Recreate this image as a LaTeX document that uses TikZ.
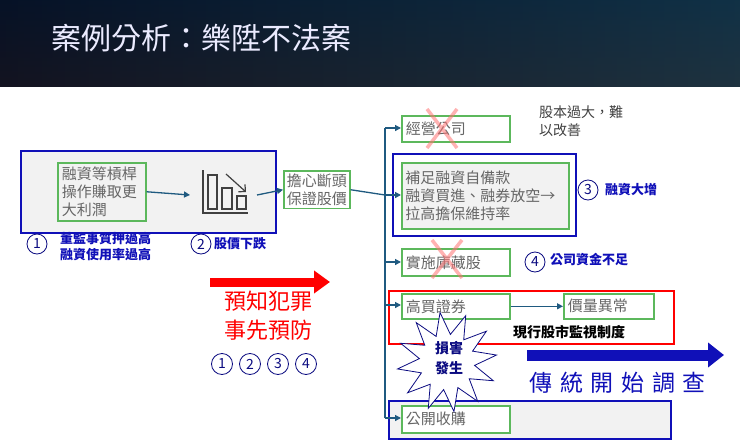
\documentclass[tikz,border=0pt]{standalone}
\usepackage{fontspec}
\setmainfont{Noto Sans CJK TC}
\usetikzlibrary{arrows.meta,shapes.geometric}
\definecolor{gbox}{HTML}{5CB85C}
\definecolor{tblue}{HTML}{1F5A80}
\definecolor{dblue}{HTML}{1010B8}
\definecolor{txtg}{HTML}{666666}
\tikzset{
 gbox/.style={draw=gbox,line width=1.6pt,fill=white,align=left,text=txtg,font=\fontsize{15}{18}\selectfont,inner sep=3pt},
 conn/.style={draw=tblue,line width=1.3pt,-{Triangle[length=6pt,width=6pt]}},
 xmark/.style={draw=red!55,line width=3.5pt,opacity=0.55},
 num/.style={circle,draw=dblue!70!black,line width=0.8pt,minimum size=20pt,inner sep=0pt,font=\fontsize{14}{14}\selectfont,text=dblue!70!black},
 btxt/.style={text=dblue,font=\bfseries\fontsize{13}{16}\selectfont,align=left,inner sep=0pt}
}
\begin{document}
\begin{tikzpicture}[x=1pt,y=-1pt]
\useasboundingbox (0,0) rectangle (740,442);
\fill[white] (0,0) rectangle (740,442);
\shade[left color=black!90!blue,right color=tblue!70!black] (0,0) rectangle (740,86);
\shade[top color=tblue!40!black,bottom color=black!85,opacity=0.5] (0,0) rectangle (740,86);
\node[anchor=west,text=white!92!blue,font=\fontsize{30}{32}\selectfont] (title) at (48,38) {案例分析：樂陞不法案};

% left region
\node[draw=dblue,line width=1.8pt,fill=black!5,minimum width=255pt,minimum height=82pt,anchor=north west] (lbox) at (20,150) {};
\node[gbox,fill=black!5,anchor=north west,text width=80pt,inner sep=4pt] (lev) at (57,162) {融資等槓桿\\操作賺取更\\大利潤};
\draw[black!75,line width=1.2pt] (203,170) -- (203,213) -- (248,213);
\draw[black!75,line width=1.2pt] (208,175) rectangle (217,209) (222,188) rectangle (232,209) (237,196) rectangle (246,209);
\draw[black!75,line width=1.2pt,-{Straight Barb[length=5pt]}] (226,174) -- (246,192);
\node[gbox,anchor=north west,inner sep=3pt] (worry) at (283,170) {擔心斷頭\\保證股價};
\draw[conn] (lev.east) -- (190,195);
\draw[conn] (257,195) -- (worry.west);

\node[num] (n1) at (37,244) {1};
\node[btxt,anchor=west] (t1) at (60,247) {董監事質押過高\\融資使用率過高};
\node[num] (n2) at (201,244) {2};
\node[btxt,anchor=west] (t2) at (214,244) {股價下跌};

% red arrow and text
\draw[red,line width=9pt,-{Triangle[length=16pt,width=22pt]}] (210,282) -- (330,282);
\node[text=red,font=\fontsize{22}{29}\selectfont,align=center] (pre) at (268,316) {預知犯罪\\事先預防};
\foreach \i/\x in {1/222,2/250,3/278,4/306}{\node[num,minimum size=21pt] (c\i) at (\x,364) {\i};}

% trunk
\coordinate (tt) at (385,128); \coordinate (tb) at (385,418);
\draw[tblue,line width=1.3pt] (tt) -- (tb);
\draw[tblue,line width=1.3pt] (worry.east) -- (385,195);

\node[gbox,anchor=north west,minimum width=108pt,minimum height=26pt,text width=100pt] (op) at (401,115) {經營公司};
\draw[xmark] (427,109) -- (457,148) (457,109) -- (427,148);
\node[anchor=north west,align=left,text=black!75,font=\fontsize{14}{18}\selectfont,inner sep=0pt] (cap) at (539,106) {股本過大，難\\以改善};

\node[draw=dblue,line width=1.8pt,minimum width=183pt,minimum height=82pt,anchor=north west] (b3) at (392,153) {};
\node[gbox,fill=black!5,anchor=north west,minimum width=167pt,minimum height=66pt,text width=160pt,inner sep=2pt] (fund) at (401,162) {補足融資自備款\\融資買進、融券放空→\\拉高擔保維持率};
\node[num] (n3) at (588,190) {3};
\node[btxt,anchor=west] (t3) at (605,190) {融資大增};

\node[gbox,anchor=north west,minimum width=108pt,minimum height=27pt,text width=100pt] (tre) at (401,248) {實施庫藏股};
\draw[xmark] (432,240) -- (462,278) (462,240) -- (432,278);
\node[num] (n4) at (535,262) {4};
\node[btxt,anchor=west] (t4) at (550,260) {公司資金不足};

\node[draw=red,line width=1.8pt,minimum width=285pt,minimum height=53pt,anchor=north west] (rb) at (388,290) {};
\node[gbox,anchor=north west,minimum width=108pt,minimum height=25pt,text width=100pt] (hb) at (401,293) {高買證券};
\node[gbox,anchor=north west,minimum width=90pt,minimum height=25pt,text width=82pt] (pv) at (563,293) {價量異常};
\draw[conn] (hb.east) -- (pv.west);
\node[font=\bfseries\fontsize{14}{16}\selectfont,anchor=west,inner sep=0pt] (mon) at (513,332) {現行股市監視制度};

\node[draw=dblue,line width=1.8pt,fill=black!5,minimum width=282pt,minimum height=38pt,anchor=north west] (bb) at (388,400) {};
\node[gbox,anchor=north west,minimum width=108pt,minimum height=27pt,text width=100pt] (pub) at (401,405) {公開收購};

\node[star,star points=12,star point ratio=1.8,draw=dblue!70!black,line width=0.8pt,fill=white,minimum size=100pt,inner sep=0pt,rotate=8] (burst) at (447,362) {};
\node[btxt,align=center,font=\bfseries\fontsize{14}{20}\selectfont,text=dblue!70!black] (dmg) at (449,358) {損害\\發生};

\draw[dblue,line width=11pt,-{Triangle[length=16pt,width=24pt]}] (527,355) -- (724,355);
\node[text=dblue,font=\fontsize{23}{26}\selectfont,anchor=west] (inv) at (526,383) {傳\,\,統\,\,開\,\,始\,\,調\,\,查};

\foreach \n/\y in {op/128,fund/195,tre/262,hb/305,pub/418}{\draw[conn] (385,\y) -- (\n.west |- 0,\y);}
\end{tikzpicture}
\end{document}
